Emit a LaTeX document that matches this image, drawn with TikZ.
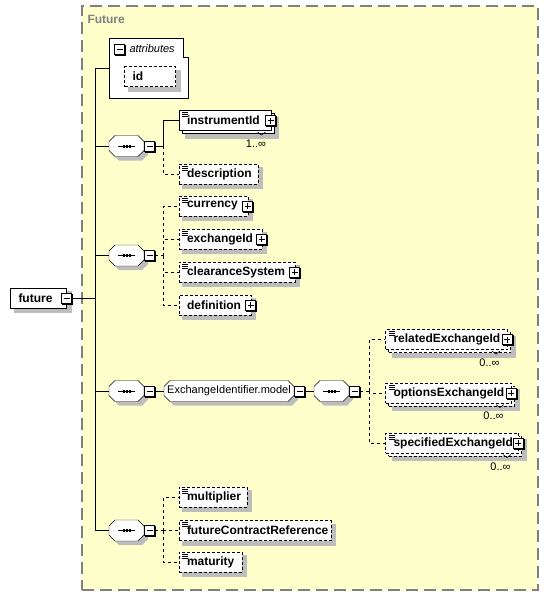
\documentclass[tikz,border=0pt]{standalone}
\usepackage{fontspec}
\setmainfont{Liberation Sans}
\usetikzlibrary{shadows, backgrounds}

\definecolor{panelfill}{HTML}{FFFFCC}
\definecolor{panelline}{HTML}{808080}
\definecolor{shadowgray}{HTML}{BDBDBD}

\tikzset{
    elem/.style={draw, fill=white, rectangle, anchor=west, minimum height=20pt,
        inner xsep=8pt, inner ysep=0pt, text width=#1, align=left,
        font=\fontsize{12}{14}\selectfont\bfseries},
    multi/.style={elem=#1, copy shadow={shadow xshift=3pt, shadow yshift=-3pt}},
    opt/.style={dash pattern=on 3pt off 2pt},
    optlink/.style={dash pattern=on 3pt off 3pt},
    typed/.style={path picture={
        \draw[solid, line width=0.7pt]
            ([xshift=3pt, yshift=-2pt]path picture bounding box.north west) -- ++(6pt,0pt)
            ([xshift=3pt, yshift=-4pt]path picture bounding box.north west) -- ++(6pt,0pt)
            ([xshift=3pt, yshift=-6pt]path picture bounding box.north west) -- ++(6pt,0pt);}},
    sign/.style={draw, solid, fill=white, rectangle, minimum size=10pt, inner sep=0pt,
        copy shadow={shadow xshift=1pt, shadow yshift=-1pt, fill=black, draw=black}},
    minus/.style={sign, path picture={
        \draw ([xshift=-3pt]path picture bounding box.center) -- ([xshift=3pt]path picture bounding box.center);}},
    plus/.style={sign, path picture={
        \draw ([xshift=-3pt]path picture bounding box.center) -- ([xshift=3pt]path picture bounding box.center)
              ([yshift=-3pt]path picture bounding box.center) -- ([yshift=3pt]path picture bounding box.center);}},
    seq/.style={rectangle, minimum width=34pt, minimum height=20pt, inner sep=0pt, anchor=west},
    group/.style={rectangle, minimum width=129pt, minimum height=20pt, inner sep=0pt, anchor=west,
        font=\fontsize{11}{13}\selectfont},
    octagon/.style={draw, fill=white, solid,
        general shadow={shadow xshift=4pt, shadow yshift=-4pt, fill=shadowgray, draw=none}},
    dropbox/.style={fill=shadowgray, draw=shadowgray, solid, line width=0.5pt},
    card/.style={inner sep=0pt, font=\fontsize{11}{13}\selectfont},
    notch/.style={line width=0.6pt},
    panel/.style={draw=panelline, fill=panelfill, dash pattern=on 12pt off 6pt, line width=1.5pt}
}

\begin{document}
\begin{tikzpicture}[x=1pt, y=-1pt, line width=1pt, font=\fontsize{12}{14}\selectfont]
    \useasboundingbox (0,0) rectangle (548,595);

    % complex type panel
    \begin{scope}[on background layer]
        \node (panel) [panel, anchor=north west, minimum width=456pt, minimum height=584pt] at (81,5) {};
    \end{scope}
    \node (paneltitle) [anchor=west, inner sep=0pt, text=panelline, font=\fontsize{12}{14}\selectfont\bfseries] at (87,19) {Future};

    % root element
    \node (future) [elem=40pt] at (10,298) {future};
    \node (future-m) [minus] at ([xshift=-0.5pt]future.east) {};
    \coordinate (trunk-top) at (95,68);
    \coordinate (trunk-bot) at (95,530.5);

    % attributes
    \node (attrs) [anchor=north west, minimum width=78pt, minimum height=59pt, inner sep=0pt] at (109,38) {};
    \node (attrs-m) [minus] at (119.5,49) {};
    \node (attrs-title) [anchor=west, inner sep=0pt, font=\fontsize{11}{13}\selectfont\itshape] at (129,49) {attributes};
    \node (id) [elem=35pt, opt] at (124,76.5) {id};

    % first sequence
    \node (seq1) [seq] at (109,146) {};
    \node (seq1-m) [minus, anchor=west] at (seq1.east) {};
    \coordinate (bus1) at (163,146);
    \node (instrumentId) [multi=76pt, typed] at (178.5,120.5) {instrumentId};
    \node (instrumentId-p) [plus] at ([xshift=-1pt]instrumentId.east) {};
    \draw[notch] ([xshift=-14pt, yshift=-1pt]instrumentId.south east) -- ++(4,3) -- ++(4,-3);
    \node (instrumentId-n) [card, anchor=north east] at ([xshift=-5pt, yshift=-8pt]instrumentId.south east) {1..∞};
    \node (description) [elem=63pt, opt, typed] at (178.5,174) {description};

    % second sequence
    \node (seq2) [seq] at (109,255.5) {};
    \node (seq2-m) [minus, anchor=west] at (seq2.east) {};
    \coordinate (bus2) at (163,255.5);
    \node (currency) [elem=53pt, opt, typed] at (178.5,206) {currency};
    \node (currency-p) [plus] at ([xshift=-1pt]currency.east) {};
    \node (exchangeId) [elem=67pt, opt, typed] at (178.5,239) {exchangeId};
    \node (exchangeId-p) [plus] at ([xshift=-1pt]exchangeId.east) {};
    \node (clearanceSystem) [elem=100pt, opt, typed] at (178.5,272) {clearanceSystem};
    \node (clearanceSystem-p) [plus] at ([xshift=-1pt]clearanceSystem.east) {};
    \node (definition) [elem=56pt, opt] at (178.5,305) {definition};
    \node (definition-p) [plus] at ([xshift=-1pt]definition.east) {};

    % third sequence with the group
    \node (seq3) [seq] at (109,391) {};
    \node (seq3-m) [minus, anchor=west] at (seq3.east) {};
    \node (model) [group] at (164,391) {ExchangeIdentifier.model};
    \node (model-m) [minus, anchor=west] at (model.east) {};
    \node (seq4) [seq] at (314,391) {};
    \node (seq4-m) [minus, anchor=west] at (seq4.east) {};
    \coordinate (bus4) at (369,391);
    \node (relatedExchangeId) [multi=106pt, opt, typed] at (385,339.5) {relatedExchangeId};
    \node (relatedExchangeId-p) [plus] at ([xshift=-1pt]relatedExchangeId.east) {};
    \draw[notch] ([xshift=-16pt, yshift=-1pt]relatedExchangeId.south east) -- ++(4,3) -- ++(4,-3);
    \node (relatedExchangeId-n) [card, anchor=north east] at ([xshift=-8pt, yshift=-8pt]relatedExchangeId.south east) {0..∞};
    \node (optionsExchangeId) [multi=110pt, opt, typed] at (385,393) {optionsExchangeId};
    \node (optionsExchangeId-p) [plus] at ([xshift=-1pt]optionsExchangeId.east) {};
    \draw[notch] ([xshift=-16pt, yshift=-1pt]optionsExchangeId.south east) -- ++(4,3) -- ++(4,-3);
    \node (optionsExchangeId-n) [card, anchor=north east] at ([xshift=-8pt, yshift=-8pt]optionsExchangeId.south east) {0..∞};
    \node (specifiedExchangeId) [multi=117pt, opt, typed] at (385,443) {specifiedExchangeId};
    \node (specifiedExchangeId-p) [plus] at ([xshift=-1pt]specifiedExchangeId.east) {};
    \draw[notch] ([xshift=-16pt, yshift=-1pt]specifiedExchangeId.south east) -- ++(4,3) -- ++(4,-3);
    \node (specifiedExchangeId-n) [card, anchor=north east] at ([xshift=-8pt, yshift=-9pt]specifiedExchangeId.south east) {0..∞};

    % last sequence
    \node (seq5) [seq] at (109,530.5) {};
    \node (seq5-m) [minus, anchor=west] at (seq5.east) {};
    \coordinate (bus5) at (163,530.5);
    \node (multiplier) [elem=52pt, opt, typed] at (178.5,497) {multiplier};
    \node (futureContractReference) [elem=136pt, opt, typed] at (178.5,530.5) {futureContractReference};
    \node (maturity) [elem=47pt, opt, typed] at (178.5,562) {maturity};

    % attribute box, shadows and octagons behind the nodes
    \begin{scope}[on background layer]
        \draw[fill=white] (attrs.south west) |- ([xshift=-5pt]attrs.north east)
            |- ([yshift=-19pt]attrs.north east) -- (attrs.south east) -- cycle;
        \foreach \n/\s in {future/4, id/4, description/4, currency/4, exchangeId/4, clearanceSystem/4,
                definition/4, multiplier/4, futureContractReference/4, maturity/4,
                instrumentId/7, relatedExchangeId/7, optionsExchangeId/7, specifiedExchangeId/7}
            \draw[dropbox] ([xshift=\s pt, yshift=-\s pt]\n.north west)
                -- ([xshift=\s pt, yshift=-\s pt]\n.north east)
                -- ([xshift=\s pt, yshift=-\s pt]\n.south east)
                -- ([xshift=\s pt, yshift=-\s pt]\n.south west) -- cycle;
        \foreach \n in {seq1, seq2, seq3, seq4, seq5, model}
            \draw[octagon] ([xshift=6pt]\n.north west) -- ([xshift=-6pt]\n.north east)
                -- ([yshift=-6pt]\n.north east) -- ([yshift=6pt]\n.south east)
                -- ([xshift=-6pt]\n.south east) -- ([xshift=6pt]\n.south west)
                -- ([yshift=6pt]\n.south west) -- ([yshift=-6pt]\n.north west) -- cycle;
    \end{scope}
    \foreach \n in {seq1, seq2, seq3, seq4, seq5} {
        \draw (\n.center) +(-8.5pt,0pt) -- +(8.5pt,0pt);
        \foreach \d in {-3, 0, 3}
            \fill ([xshift=\d pt]\n.center) +(-1pt,-1.5pt) rectangle +(1pt,1.5pt);
    }

    % connectors
    \draw (trunk-top) -- (trunk-bot);
    \draw (future-m.east) -- (future-m.east -| trunk-top);
    \draw (attrs.west -| trunk-top) -- (attrs.west);
    \draw (seq1.west -| trunk-top) -- (seq1.west);
    \draw (seq2.west -| trunk-top) -- (seq2.west);
    \draw (seq3.west -| trunk-top) -- (seq3.west);
    \draw (seq5.west -| trunk-top) -- (seq5.west);

    \draw (seq1-m.east) -- (bus1);
    \draw (bus1) |- (instrumentId.west);
    \draw[optlink] (bus1) |- (description.west);

    \draw[optlink] (seq2-m.east) -- (bus2);
    \foreach \kid in {currency, exchangeId, clearanceSystem, definition}
        \draw[optlink] (bus2) |- (\kid.west);

    \draw (seq3-m.east) -- (model.west);
    \draw (model-m.east) -- (seq4.west);
    \draw[optlink] (seq4-m.east) -- (bus4);
    \foreach \kid in {relatedExchangeId, optionsExchangeId, specifiedExchangeId}
        \draw[optlink] (bus4) |- (\kid.west);

    \draw[optlink] (seq5-m.east) -- (bus5);
    \foreach \kid in {multiplier, futureContractReference, maturity}
        \draw[optlink] (bus5) |- (\kid.west);
\end{tikzpicture}
\end{document}
